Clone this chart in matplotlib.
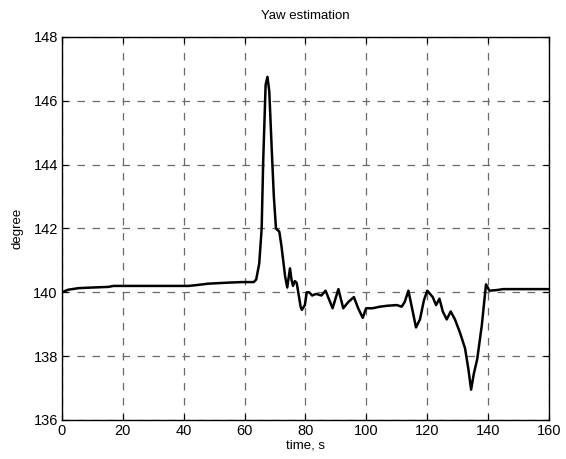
import matplotlib.pyplot as plt

# yaw estimate over time (s, degrees)
time_s = [0, 2, 5.4, 10, 15.3, 16.9, 30, 41.6, 44.6, 48, 54, 59, 63, 63.8,
          64.8, 65.6, 66.1, 66.9, 67.5, 68.1, 68.9, 69.6, 70.3, 71.4, 72.1,
          73.3, 74.0, 74.9, 75.4, 75.9, 76.5, 77.1, 78.4, 78.8, 79.8, 80.4,
          81.2, 82.2, 83.5, 85.2, 86.6, 88.9, 90.8, 92.4, 94.1, 95.9, 97.3,
          98.8, 99.9, 102, 104.5, 107, 110, 111.6, 112.6, 113.8, 114.9, 116.3,
          117.6, 118.9, 120, 121.8, 122.9, 124, 125.1, 126.4, 127.7, 129.1,
          130.7, 132.4, 133.5, 134.4, 135.3, 136.4, 137.9, 139.3, 140.4,
          142.8, 144.9, 160]
yaw_deg = [140.0, 140.08, 140.13, 140.15, 140.17, 140.2, 140.2, 140.2, 140.23,
           140.27, 140.3, 140.32, 140.32, 140.4,
           140.9, 142.0, 144.1, 146.5, 146.75, 146.3, 144.5, 143.0, 142.0,
           141.9, 141.45, 140.5, 140.15, 140.75, 140.4, 140.2, 140.35, 140.3,
           139.55, 139.45, 139.6, 140.0, 140.0, 139.9, 139.95, 139.9, 140.05,
           139.5, 140.1, 139.5, 139.7, 139.85, 139.5, 139.2, 139.5, 139.5,
           139.55, 139.58, 139.6, 139.55, 139.7, 140.05, 139.55, 138.9, 139.15,
           139.75, 140.05, 139.85, 139.6, 139.8, 139.4, 139.15, 139.4, 139.15,
           138.75, 138.25, 137.6, 136.95, 137.45, 137.9, 138.95, 140.25,
           140.05, 140.07, 140.1, 140.1]

x_ticks = [0, 20, 40, 60, 80, 100, 120, 140, 160]
y_ticks = [136, 138, 140, 142, 144, 146, 148]

plt.rcParams['font.family'] = ['Liberation Sans', 'DejaVu Sans']

fig = plt.figure(figsize=(5.66, 4.59), dpi=100)
ax = fig.add_axes([0.1095, 0.085, 0.8605, 0.8345])

ax.plot(time_s, yaw_deg, color='black', linewidth=1.8)

ax.set_xlim(0, 160)
ax.set_ylim(136, 148)
ax.set_xticks(x_ticks)
ax.set_yticks(y_ticks)
ax.grid(True, color='#6a6a6a', linestyle=(0, (6, 6)), linewidth=0.9)
ax.tick_params(direction='in', length=4, width=0.8, labelsize=10.5,
               top=True, right=True, pad=3)
for side in ax.spines.values():
    side.set_linewidth(1.0)

ax.set_title('Yaw estimation', fontsize=9.5, pad=13)
ax.set_xlabel('time, s', fontsize=9.5, labelpad=1)
ax.set_ylabel('degree', fontsize=9.5, labelpad=7)

fig.savefig('out.png', dpi=100)
